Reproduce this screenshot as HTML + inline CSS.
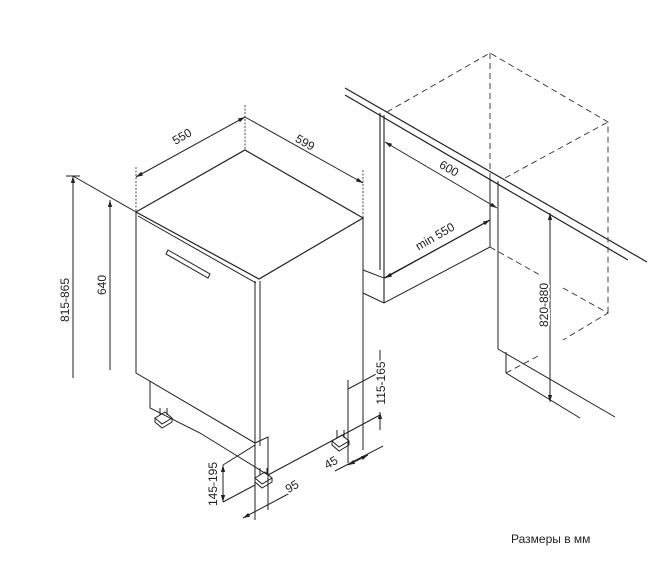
<!DOCTYPE html>
<html><head><meta charset="utf-8"><style>
html,body{margin:0;padding:0;background:#fff;}
svg{display:block;}
text{font-family:"Liberation Sans",sans-serif;font-size:12px;fill:#222;paint-order:stroke;stroke:#fff;stroke-width:4px;}
</style></head><body>
<svg width="652" height="582" viewBox="0 0 652 582" xmlns="http://www.w3.org/2000/svg">
<defs>
<marker id="a" viewBox="0 0 10 10" refX="10" refY="5" markerWidth="7" markerHeight="7" orient="auto-start-reverse"><path d="M0,2 L10,5 L0,8 z" fill="#222"/></marker>
</defs>
<g stroke="#222" fill="none" stroke-width="1">
<path d="M136,212 L245,150 L363,218 L259,279 Z" stroke-width="1.2"/>
<path d="M138,216 L256,283"/>
<path d="M136,212 L136,373 L255,443 L255,281"/>
<path d="M260,281 L260,446"/>
<path d="M168,250 L210,274 L208,278 L166,254 Z"/>
<path d="M363,218 L363,450"/>
<path d="M150,381 L150,408 L200,433 L268,475"/>
<path d="M255,443 L268,437 L268,510"/>
<path d="M255,443 L255,520"/>
<path d="M268,475 L380,415"/>
<path d="M155,418 L165,412 L172,418 L162,424 Z M155,418 L155,422 L162,428 L172,422 L172,418 M160,408 L160,415 M167,408 L167,415"/>
<path d="M255,478 L265,472 L272,478 L262,484 Z M255,478 L255,482 L262,488 L272,482 L272,478 M260,468 L260,475 M267,468 L267,475"/>
<path d="M332,441 L342,435 L349,441 L339,447 Z M332,441 L332,445 L339,451 L349,445 L349,441 M337,430 L337,438 M344,430 L344,438"/>
<path d="M136,167 L136,212 M245,105 L245,150 M363,170 L363,218" stroke-dasharray="2,1.5" stroke-width="0.8"/>
<path d="M136,177 L245,117" marker-start="url(#a)" marker-end="url(#a)"/>
<path d="M245,117 L363,183" marker-end="url(#a)"/>
<path d="M73,176 L136,212"/>
<path d="M73,378 L73,176" marker-end="url(#a)"/>
<path d="M110,370 L110,200" marker-end="url(#a)"/>
<path d="M66,176 L80,176"/>
<path d="M223,465 L255,445 M223,502 L255,485"/>
<path d="M223,465 L223,502" marker-start="url(#a)" marker-end="url(#a)"/>
<path d="M243,518 L290,493" marker-start="url(#a)"/>
<path d="M348,380 L348,463 M335,471 L383,446" />
<path d="M348,465 L368,455" marker-start="url(#a)" marker-end="url(#a)"/>
<path d="M348,389 L380,372"/>
<path d="M380,350 L380,372" marker-end="url(#a)"/>
<path d="M380,430 L380,412" marker-end="url(#a)"/>
<path d="M345,88 L647,262 M345,95 L628,260" stroke-width="1.2"/>
<path d="M380,113 L380,270 M384,115 L384,303" stroke-width="1.1"/>
<path d="M363,270 L384,278 L490,220 M363,293 L384,303 L490,247"/>
<path d="M490,180 L490,247 M498,181 L498,349 L615,417 M506,352 L506,373 L580,418"/>
<path d="M550,402 L550,213" marker-start="url(#a)" marker-end="url(#a)"/>
<path d="M385,142 L497,208" marker-start="url(#a)" marker-end="url(#a)"/>
<path d="M385,278 L490,220" marker-start="url(#a)" marker-end="url(#a)"/>
</g>
<g stroke="#333" fill="none" stroke-width="0.9" stroke-dasharray="6,4">
<path d="M387,112 L490,53 L608,122 L608,313"/>
<path d="M490,53 L490,180"/>
<path d="M505,178 L608,122"/>
<path d="M490,247 L540,275 M563,288 L608,313 L563,340 M506,373 L540,355"/>
</g>
<text transform="translate(184,140) rotate(-30)" text-anchor="middle">550</text>
<text transform="translate(303,146) rotate(30)" text-anchor="middle">599</text>
<text transform="translate(69,300) rotate(-90)" text-anchor="middle">815-865</text>
<text transform="translate(106,285) rotate(-90)" text-anchor="middle">640</text>
<text transform="translate(217,484) rotate(-90)" text-anchor="middle">145-195</text>
<text transform="translate(294,490) rotate(-30)" text-anchor="middle">95</text>
<text transform="translate(333,466) rotate(-30)" text-anchor="middle">45</text>
<text transform="translate(385,383) rotate(-90)" text-anchor="middle">115-165</text>
<text transform="translate(447,172) rotate(30)" text-anchor="middle">600</text>
<text transform="translate(437,240) rotate(-30)" text-anchor="middle">min 550</text>
<text transform="translate(548,305) rotate(-90)" text-anchor="middle">820-880</text>
<text x="511" y="543" style="stroke:none">Размеры в мм</text>
</svg>
</body></html>
